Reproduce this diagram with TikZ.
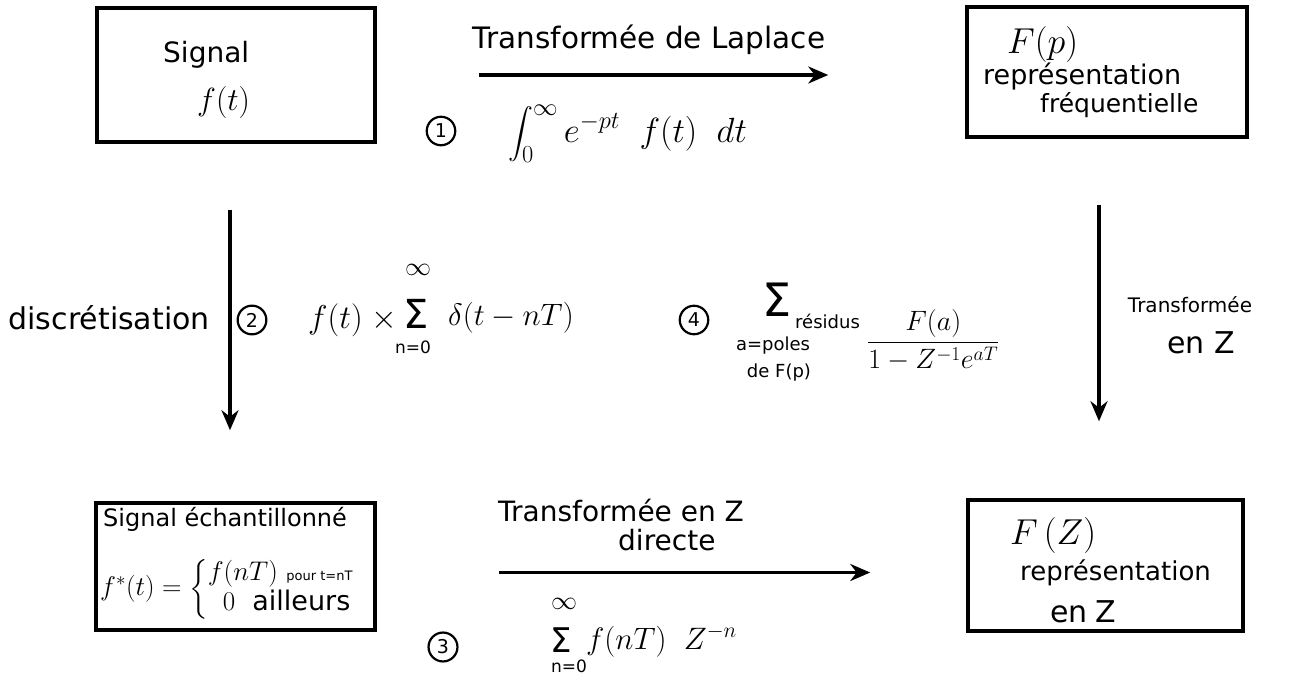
\RequirePackage{fix-cm}
\documentclass[tikz,border=0pt]{standalone}
\usepackage{amsmath}
\usepackage{fontspec}
\setmainfont{DejaVu Sans}
\usetikzlibrary{arrows.meta}
\newcommand{\fsz}[2]{\fontsize{#1}{#2}\selectfont}
\begin{document}
\begin{tikzpicture}[x=1pt,y=-1pt,
  box/.style={draw,line width=3.5pt,inner sep=0pt},
  arr/.style={line width=3.5pt,-{Stealth[length=20pt,width=17pt]}},
  lbl/.style={inner sep=0pt,anchor=west,font=\fsz{28}{34}},
  ctr/.style={inner sep=0pt,font=\fsz{28}{34}},
  num/.style={circle,draw,line width=2.2pt,inner sep=3.6pt,font=\fsz{19}{22}}]
\useasboundingbox (0,0) rectangle (1295,676);
% boxes
\node[box,minimum width=278pt,minimum height=134pt] (b1) at (236,75) {};
\node[box,minimum width=280pt,minimum height=130pt] (b2) at (1107,72) {};
\node[box,minimum width=279pt,minimum height=127pt] (b3) at (235.5,566.5) {};
\node[box,minimum width=275pt,minimum height=131pt] (b4) at (1105.5,565.5) {};
% box texts
\node[lbl] (s1) at (163,55) {Signal};
\node[lbl,font=\fsz{32}{38}] (s2) at (197,103) {$f(t)$};
\node[lbl,font=\fsz{36}{42}] (p1) at (1007,45) {$F(p)$};
\node[lbl,font=\fsz{27}{32}] (p2) at (983,77) {représentation};
\node[lbl,font=\fsz{25}{30}] (p3) at (1040,105) {fréquentielle};
\node[lbl,font=\fsz{24}{28}] (e1) at (103,519) {Signal échantillonné};
\node[lbl,font=\fsz{27}{32}] (e2) at (100,589) {$f^*(t)=\left\{\begin{array}{@{}l@{}} f(nT)\ \text{\fsz{13}{15}pour t=nT}\\[-2pt] \;\;0\ \ \text{ailleurs}\end{array}\right.$};
\node[lbl,font=\fsz{36}{42}] (z1) at (1010,535) {$F\,(Z)$};
\node[lbl,font=\fsz{26}{30}] (z2) at (1020,573) {représentation};
\node[lbl,font=\fsz{30}{36}] (z3) at (1050,612) {en\hspace{8pt}Z};
% arrows
\draw[arr,shorten <=102pt,shorten >=137pt] (b1.east) -- (b2.west |- b1.east);
\draw[arr,shorten <=66pt,shorten >=71pt] ([xshift=-6pt]b1.south) -- ([xshift=-6pt]b1.south |- b3.north);
\draw[arr,shorten <=66pt,shorten >=77pt] ([xshift=-8pt]b2.south) -- ([xshift=-8pt]b2.south |- b4.north);
\draw[arr,shorten <=122pt,shorten >=96pt] ([yshift=-6pt]b3.east) -- ([yshift=-6pt]b3.east -| b4.west);
% top labels
\node[ctr,font=\fsz{29.5}{35}] (l1) at (649,40) {Transformée de Laplace};
\node[num] (n1) at (441,131) {1};
\node[lbl,font=\fsz{35}{42}] (f1) at (508,134) {$\displaystyle\int_0^{\infty} e^{-pt}\;\; f(t)\;\; dt$};
% left labels
\node[lbl,anchor=east,font=\fsz{30}{36}] (l2) at (210,318) {discrétisation};
\node[num] (n2) at (252,320) {2};
\node[lbl,font=\fsz{33}{38}] (f2a) at (308,320) {$f(t)\;\times$};
\node[ctr,font=\fsz{40}{44}] (f2s) at (416,314) {Σ};
\node[ctr,font=\fsz{26}{30}] (f2u) at (418,270) {$\infty$};
\node[ctr,font=\fsz{17}{20}] (f2l) at (413,347) {n=0};
\node[lbl,font=\fsz{31}{36}] (f2b) at (448,318) {$\delta(t-nT)$};
% middle
\node[num] (n4) at (694,320) {4};
\node[ctr,font=\fsz{46}{50}] (sg) at (777,300) {Σ};
\node[ctr,font=\fsz{18}{20}] (sa) at (773,346) {a=poles};
\node[ctr,font=\fsz{18}{20}] (sb) at (779,373) {de F(p)};
\node[lbl,font=\fsz{18}{20}] (rs) at (795,321) {résidus};
\node[lbl,font=\fsz{28}{34}] (fr) at (867,340) {$\displaystyle\frac{F(a)}{1-Z^{-1}e^{aT}}$};
% right labels
\node[ctr,font=\fsz{20}{24}] (l3) at (1190,305) {Transformée};
\node[ctr,font=\fsz{30}{36}] (l4) at (1201,343) {en Z};
% bottom labels
\node[lbl] (l5) at (498,510) {Transformée en Z};
\node[lbl] (l6) at (618,540) {directe};
\node[num] (n3) at (443,647) {3};
\node[ctr,font=\fsz{34}{38}] (f3s) at (561,640) {Σ};
\node[ctr,font=\fsz{26}{30}] (f3u) at (564,604) {$\infty$};
\node[ctr,font=\fsz{17}{20}] (f3l) at (569,666) {n=0};
\node[lbl,font=\fsz{31}{36}] (f3) at (586,641) {$f(nT)\;\; Z^{-n}$};
\end{tikzpicture}
\end{document}
